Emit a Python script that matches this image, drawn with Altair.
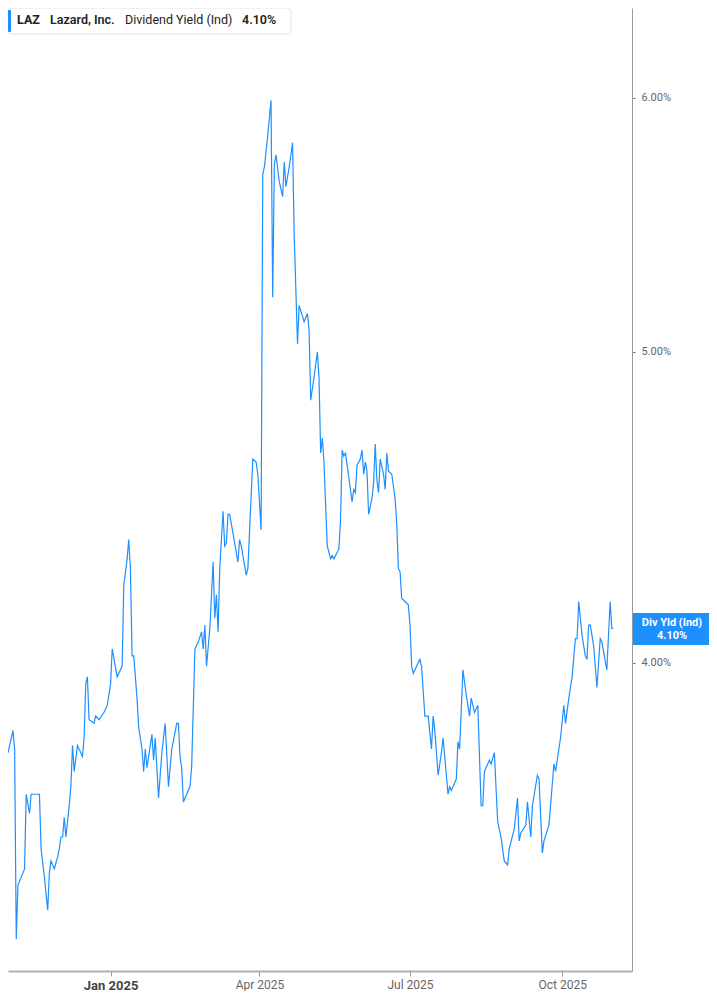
import altair as alt
import pandas as pd

# Day offsets from 2025-01-01 and indicated dividend yield (%)
days = [
    -62, -59, -58, -57, -56, -55, -52, -51, -49, -48,
    -44, -43, -42, -40, -38, -37, -36, -34, -32, -31,
    -30, -29, -28, -27, -25, -24, -23, -22, -20, -17,
    -16, -15, -14, -13, -10, -9, -7, -4, -2, 0,
    1, 4, 7, 8, 10, 11, 12, 13, 14, 16,
    17, 19, 20, 21, 22, 24, 25, 26, 27, 29,
    30, 31, 33, 35, 37, 40, 41, 42, 43, 44,
    48, 49, 51, 53, 55, 56, 57, 58, 60, 62,
    63, 64, 65, 66, 68, 69, 70, 71, 72, 74,
    77, 78, 79, 82, 83, 86, 88, 89, 91, 92,
    93, 95, 97, 98, 99, 100, 102, 104, 105, 106,
    108, 110, 111, 113, 114, 117, 119, 120, 121, 123,
    125, 126, 127, 128, 129, 130, 131, 133, 134, 135,
    138, 139, 140, 141, 142, 144, 146, 147, 148, 149,
    151, 152, 153, 154, 155, 156, 158, 159, 160, 161,
    162, 163, 165, 166, 167, 168, 170, 172, 173, 174,
    175, 176, 178, 180, 181, 182, 183, 186, 187, 188,
    190, 192, 194, 195, 196, 198, 200, 201, 204, 205,
    206, 209, 210, 211, 213, 215, 217, 218, 220, 222,
    224, 225, 226, 229, 230, 232, 234, 236, 238, 240,
    241, 244, 246, 247, 248, 251, 252, 254, 255, 258,
    259, 261, 262, 265, 268, 269, 272, 274, 275, 277,
    279, 281, 282, 283, 285, 287, 288, 289, 290, 292,
    294, 296, 297, 300, 302, 303, 304,
]

yields = [
    3.75, 3.81, 3.76, 3.28, 3.41, 3.42, 3.45, 3.64, 3.59, 3.64,
    3.64, 3.64, 3.50, 3.43, 3.35, 3.44, 3.47, 3.45, 3.48, 3.50,
    3.53, 3.53, 3.58, 3.53, 3.61, 3.66, 3.77, 3.70, 3.77, 3.74,
    3.79, 3.94, 3.96, 3.84, 3.83, 3.85, 3.84, 3.86, 3.88, 3.94,
    4.04, 3.96, 3.99, 4.23, 4.31, 4.37, 4.28, 4.02, 4.02, 3.90,
    3.82, 3.76, 3.70, 3.76, 3.71, 3.77, 3.80, 3.73, 3.79, 3.63,
    3.69, 3.75, 3.83, 3.66, 3.76, 3.83, 3.83, 3.74, 3.71, 3.62,
    3.66, 3.71, 4.04, 4.06, 4.09, 4.04, 4.11, 3.99, 4.10, 4.30,
    4.13, 4.20, 4.09, 4.28, 4.46, 4.35, 4.36, 4.45, 4.45, 4.39,
    4.30, 4.37, 4.35, 4.26, 4.28, 4.63, 4.62, 4.58, 4.40, 5.68,
    5.71, 5.84, 5.99, 5.20, 5.72, 5.76, 5.65, 5.59, 5.73, 5.63,
    5.71, 5.81, 5.44, 5.03, 5.17, 5.11, 5.14, 5.08, 4.83, 4.91,
    5.00, 4.91, 4.65, 4.70, 4.62, 4.48, 4.35, 4.31, 4.32, 4.31,
    4.34, 4.43, 4.66, 4.64, 4.65, 4.57, 4.49, 4.53, 4.52, 4.61,
    4.63, 4.66, 4.58, 4.62, 4.59, 4.45, 4.50, 4.55, 4.68, 4.56,
    4.52, 4.63, 4.58, 4.53, 4.65, 4.59, 4.58, 4.50, 4.42, 4.28,
    4.27, 4.19, 4.18, 4.17, 4.11, 3.99, 3.97, 4.00, 4.01, 3.99,
    3.85, 3.85, 3.76, 3.85, 3.81, 3.69, 3.75, 3.79, 3.64, 3.66,
    3.65, 3.68, 3.78, 3.76, 3.98, 3.91, 3.85, 3.90, 3.86, 3.88,
    3.61, 3.61, 3.70, 3.73, 3.72, 3.75, 3.57, 3.53, 3.47, 3.46,
    3.50, 3.55, 3.63, 3.52, 3.54, 3.56, 3.62, 3.53, 3.61, 3.69,
    3.68, 3.49, 3.52, 3.56, 3.72, 3.70, 3.79, 3.88, 3.83, 3.90,
    3.96, 4.07, 4.07, 4.18, 4.08, 4.02, 4.01, 4.11, 4.11, 4.05,
    3.93, 4.07, 4.06, 3.98, 4.18, 4.10, 4.10,
]

tick_dates = ["2025-01-01", "2025-04-01", "2025-07-01", "2025-10-01"]
y_ticks = [4, 5, 6]
ticker = "LAZ"
company = "Lazard, Inc."
metric = "Dividend Yield (Ind)"
short_metric = "Div Yld (Ind)"
last_value = "4.10%"

assert len(days) == len(yields)

BLUE = "#1e8fff"

dates = (pd.Timestamp("2025-01-01") + pd.to_timedelta(days, unit="D")).strftime("%Y-%m-%d")
df = pd.DataFrame({"date": dates, "yield": yields})

x_scale = alt.Scale(
    type="utc",
    domain=[
        alt.DateTime(year=2024, month=10, date=31, utc=True),
        alt.DateTime(year=2025, month=11, date=12, hours=5, utc=True),
    ],
)
y_scale = alt.Scale(type="log", domain=[3.2063, 6.40], nice=False, zero=False)

tick_vals = [
    alt.DateTime(year=int(d[:4]), month=int(d[5:7]), date=int(d[8:]), utc=True)
    for d in tick_dates
]

is_jan = "utcmonth(datum.value) === 0"

x_axis = alt.Axis(
    values=tick_vals,
    labelExpr="utcFormat(datum.value, '%b %Y')",
    title=None,
    grid=False,
    tickSize=5,
    tickColor="#9a9a9a",
    domainColor="#b0b0b0",
    domainWidth=2,
    labelPadding=3,
    labelFont="Roboto",
    labelFontSize={"condition": {"test": is_jan, "value": 13}, "value": 12},
    labelFontWeight={"condition": {"test": is_jan, "value": "bold"}, "value": "normal"},
    labelColor={"condition": {"test": is_jan, "value": "#444444"}, "value": "#666666"},
)

y_axis = alt.Axis(
    orient="right",
    values=y_ticks,
    labelExpr="format(datum.value, '.2f') + '%'",
    title=None,
    grid=False,
    tickSize=3,
    tickColor="#777777",
    domainColor="#999999",
    domainWidth=1,
    labelPadding=6,
    labelFont="Roboto",
    labelFontSize=11,
    labelColor="#666666",
)

line = alt.Chart(df).mark_line(color=BLUE, strokeWidth=1.2).encode(
    x=alt.X("date:T", scale=x_scale, axis=x_axis),
    y=alt.Y("yield:Q", scale=y_scale, axis=y_axis),
)

one = alt.Chart(pd.DataFrame({"k": [0]}))

legend_box = one.mark_rect(fill="white", stroke="#e2e2e2", strokeWidth=1, cornerRadius=3).encode(
    x=alt.value(0), x2=alt.value(283), y=alt.value(0), y2=alt.value(26)
)
legend_bar = one.mark_rect(fill=BLUE, cornerRadius=1).encode(
    x=alt.value(0), x2=alt.value(3), y=alt.value(2), y2=alt.value(24)
)


def legend_text(txt, xpos, weight):
    return one.mark_text(
        text=txt, align="left", baseline="middle", font="Roboto",
        fontSize=12.5, fontWeight=weight, color="#222222",
    ).encode(x=alt.value(xpos), y=alt.value(12))


t1 = legend_text(ticker, 9, "bold")
t2 = legend_text(company, 42, 600)
t3 = legend_text(metric, 117, "normal")
t4 = legend_text(last_value, 234, 600)

tag_box = one.mark_rect(fill=BLUE).encode(
    x=alt.value(625), x2=alt.value(701), y=alt.value(605), y2=alt.value(637)
)
tag_t1 = one.mark_text(
    text=short_metric, align="center", baseline="middle", font="Roboto",
    fontSize=11, fontWeight="bold", color="white",
).encode(x=alt.value(664), y=alt.value(615))
tag_t2 = one.mark_text(
    text=last_value, align="center", baseline="middle", font="Roboto",
    fontSize=11, fontWeight="bold", color="white",
).encode(x=alt.value(664), y=alt.value(628))

chart = (
    alt.layer(line, legend_box, legend_bar, t1, t2, t3, t4, tag_box, tag_t1, tag_t2)
    .properties(
        width=624,
        height=963,
        padding={"left": 0, "top": 0, "right": 77, "bottom": 20},
        autosize=alt.AutoSizeParams(type="none"),
        background="white",
    )
    .configure_view(stroke=None)
)

chart.save("out.html", embed_options={"renderer": "svg", "actions": False})
